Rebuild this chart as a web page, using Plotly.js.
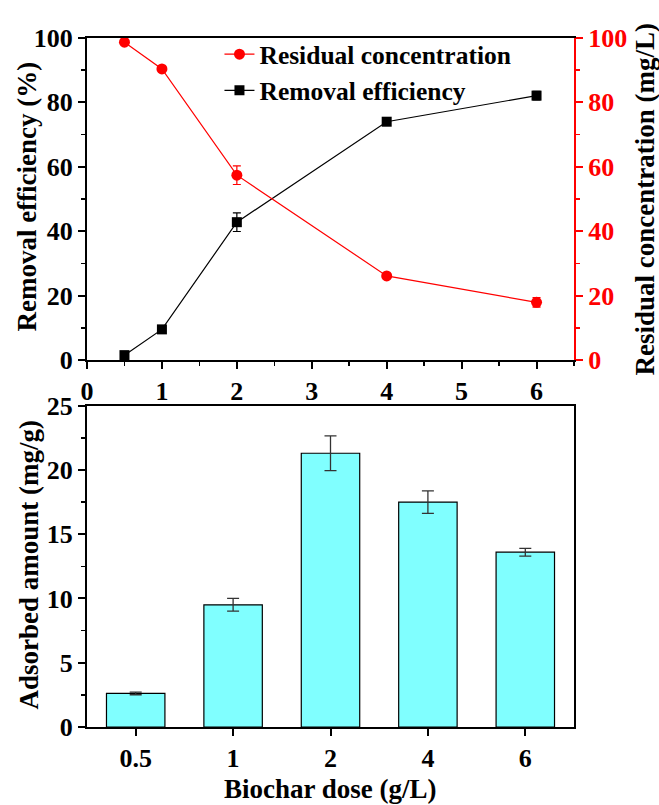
<!DOCTYPE html>
<html>
<head>
<meta charset="utf-8">
<script src="https://cdn.plot.ly/plotly-3.0.1.min.js"></script>
<style>
html,body{margin:0;padding:0;background:#fff;}
#chart{width:659px;height:805px;}
#chart svg text{font-family:'Liberation Serif', 'Times New Roman', serif !important; font-weight:bold !important;}
</style>
</head>
<body>
<div id="chart"></div>
<script>
// ---- data ----
const doses = [0.5, 1, 2, 4, 6];
const residual = [98.7, 90.4, 57.4, 26.1, 17.9];
const residualErr = [0.5, 0.6, 2.9, 0.6, 1.5];
const removal = [1.5, 9.5, 42.8, 74.0, 82.1];
const removalErr = [0.5, 0.8, 2.9, 0.8, 1.3];
const doseLabels = ['0.5', '1', '2', '4', '6'];
const adsorbed = [2.61, 9.51, 21.3, 17.5, 13.6];
const adsorbedErr = [0.1, 0.5, 1.35, 0.88, 0.3];

const FAM = 'Liberation Serif';
function f(size, color) { return {family: FAM, size: size, color: color || '#000', weight: 'bold'}; }

const traces = [
  {
    x: doses, y: residual, xaxis: 'x', yaxis: 'y2', type: 'scatter', mode: 'lines+markers',
    name: 'Residual concentration',
    line: {color: '#ff0000', width: 1.2},
    marker: {symbol: 'circle', size: 11, color: '#ff0000'},
    error_y: {type: 'data', array: residualErr, visible: true, color: '#ff0000', thickness: 1.2, width: 4}
  },
  {
    x: doses, y: removal, xaxis: 'x', yaxis: 'y', type: 'scatter', mode: 'lines+markers',
    name: 'Removal efficiency',
    line: {color: '#000000', width: 1.2},
    marker: {symbol: 'square', size: 10, color: '#000000'},
    error_y: {type: 'data', array: removalErr, visible: true, color: '#000000', thickness: 1.2, width: 4}
  },
  {
    x: doseLabels, y: adsorbed, xaxis: 'x2', yaxis: 'y3', type: 'bar', width: 0.6,
    showlegend: false,
    marker: {color: '#80ffff', line: {color: '#000', width: 1.2}},
    error_y: {type: 'data', array: adsorbedErr, visible: true, color: '#333', thickness: 1.3, width: 6}
  }
];

function ax(extra) {
  return Object.assign({showgrid: false, zeroline: false, showline: true, linewidth: 2, linecolor: '#000',
    ticks: 'outside', ticklen: 7, tickwidth: 2, tickcolor: '#000', tickfont: f(26)}, extra);
}

const layout = {
  width: 659, height: 805,
  font: {family: FAM, weight: 'bold', color: '#000'},
  margin: {l: 87, r: 85, t: 38, b: 78},
  paper_bgcolor: '#fff', plot_bgcolor: '#fff',
  showlegend: true,
  legend: {x: 0.272, xanchor: 'left', y: 1.010, yanchor: 'top', bgcolor: 'rgba(0,0,0,0)',
    font: f(25.5), tracegroupgap: 0},
  xaxis: ax({domain: [0, 1], anchor: 'y', range: [0, 6.5], tick0: 0, dtick: 1, mirror: true,
    minor: {dtick: 0.5, tick0: 0, ticks: 'outside', ticklen: 4, tickwidth: 1.5, tickcolor: '#000'}}),
  yaxis: ax({domain: [0.5327, 1], anchor: 'x', range: [0, 100], dtick: 20,
    minor: {dtick: 10, ticks: 'outside', ticklen: 4, tickwidth: 1.5, tickcolor: '#000'}}),
  yaxis2: ax({overlaying: 'y', side: 'right', anchor: 'x', range: [0, 100], dtick: 20,
    linecolor: '#ff0000', tickcolor: '#ff0000', tickfont: f(26, '#ff0000'),
    minor: {dtick: 10, ticks: 'outside', ticklen: 4, tickwidth: 1.5, tickcolor: '#ff0000'}}),
  xaxis2: ax({domain: [0, 1], anchor: 'y3', type: 'category', range: [-0.5, 4.5], mirror: true}),
  xaxis3: {overlaying: 'x2', anchor: 'y3', side: 'bottom', range: [-0.5, 4.5], tick0: -0.5, dtick: 1,
    showgrid: false, zeroline: false, showline: false, ticks: 'outside', ticklen: 4, tickwidth: 1.5,
    tickcolor: '#000', showticklabels: false},
  yaxis3: ax({domain: [0, 0.4663], anchor: 'x2', range: [0, 25], dtick: 5, mirror: true,
    minor: {dtick: 2.5, ticks: 'outside', ticklen: 4, tickwidth: 1.5, tickcolor: '#000'}}),
  annotations: [
    {text: 'Removal efficiency (%)', xref: 'paper', yref: 'paper', x: -0.123, y: 0.77,
      xanchor: 'center', yanchor: 'middle', textangle: -90, showarrow: false, font: f(27)},
    {text: 'Residual concentration (mg/L)', xref: 'paper', yref: 'paper', x: 1.145, y: 0.765,
      xanchor: 'center', yanchor: 'middle', textangle: -90, showarrow: false, font: f(27)},
    {text: 'Adsorbed amount (mg/g)', xref: 'paper', yref: 'paper', x: -0.119, y: 0.236,
      xanchor: 'center', yanchor: 'middle', textangle: -90, showarrow: false, font: f(27)},
    {text: 'Biochar dose (g/L)', xref: 'paper', yref: 'paper', x: 0.499, y: -0.09,
      xanchor: 'center', yanchor: 'middle', showarrow: false, font: f(27)}
  ]
};

Plotly.newPlot('chart', traces, layout, {displayModeBar: false, staticPlot: true});
</script>
</body>
</html>
